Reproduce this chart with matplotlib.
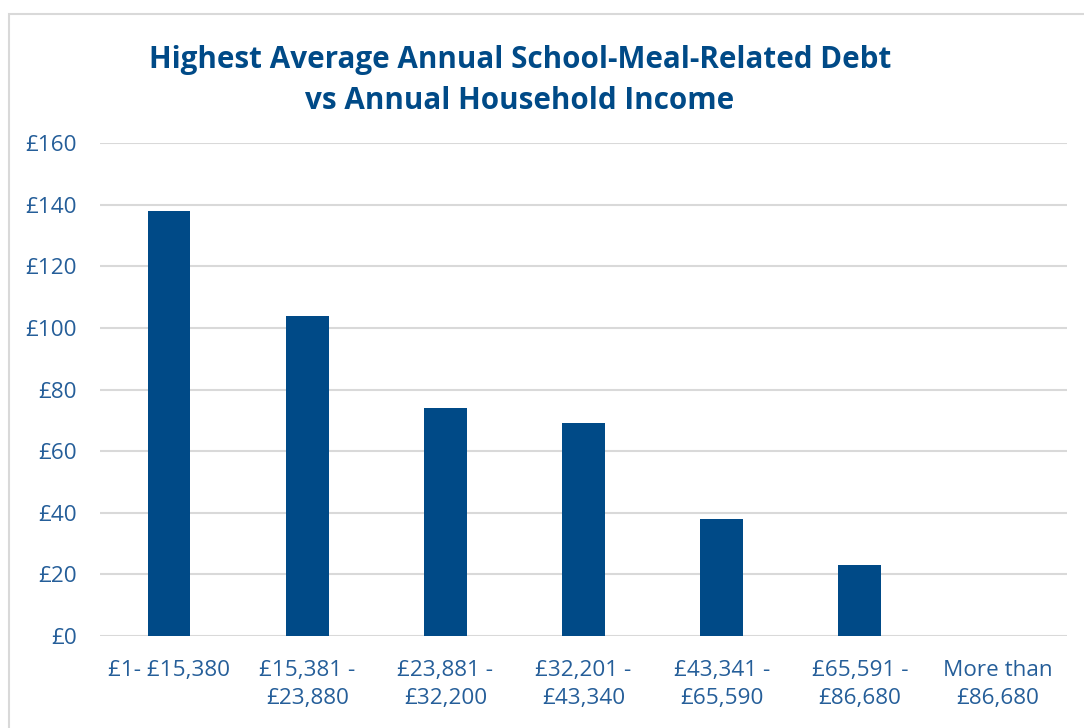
import matplotlib.pyplot as plt
from matplotlib.patches import Rectangle

# Data
income_bands = ['£1- £15,380', '£15,381 -\n£23,880', '£23,881 -\n£32,200',
                '£32,201 -\n£43,340', '£43,341 -\n£65,590', '£65,591 -\n£86,680',
                'More than\n£86,680']
avg_debt = [138, 104, 74, 69, 38, 23, 0]
y_ticks = [0, 20, 40, 60, 80, 100, 120, 140, 160]

bar_color = '#004A87'
title_color = '#004A87'
label_color = '#255E99'
grid_color = '#D9D9D9'

plt.rcParams['font.family'] = ['Open Sans', 'DejaVu Sans']

fig = plt.figure(figsize=(10.84, 7.28), dpi=100)
W, H = 1084, 728
ax = fig.add_axes([100 / W, 1 - 636 / H, (1067 - 100) / W, (636 - 143) / H])

x = range(len(income_bands))
ax.bar(x, avg_debt, width=0.31, color=bar_color, zorder=3)

ax.set_xlim(-0.5, len(income_bands) - 0.5)
ax.set_ylim(0, 160)
ax.set_yticks(y_ticks)
ax.set_yticklabels([f'£{v}' for v in y_ticks])
ax.set_xticks(list(x))
ax.set_xticklabels(income_bands, linespacing=1.45)

ax.yaxis.grid(True, color=grid_color, linewidth=1.5, zorder=0)
for s in ax.spines.values():
    s.set_visible(False)
ax.tick_params(axis='both', length=0, labelsize=16.2, colors=label_color)
ax.tick_params(axis='y', pad=16.5)
ax.tick_params(axis='x', pad=17)

fig.text(520 / W, 1 - 45 / H,
         'Highest Average Annual School-Meal-Related Debt\nvs Annual Household Income',
         ha='center', va='top', fontsize=21.3, fontweight='bold',
         color=title_color, linespacing=1.48)

# light frame around the chart area
fig.patches.append(Rectangle((9 / W, -0.05), 1.2, 1 - 14 / H + 0.05,
                             transform=fig.transFigure, fill=False,
                             edgecolor=grid_color, linewidth=1.5))

fig.savefig('out.png', dpi=100)
